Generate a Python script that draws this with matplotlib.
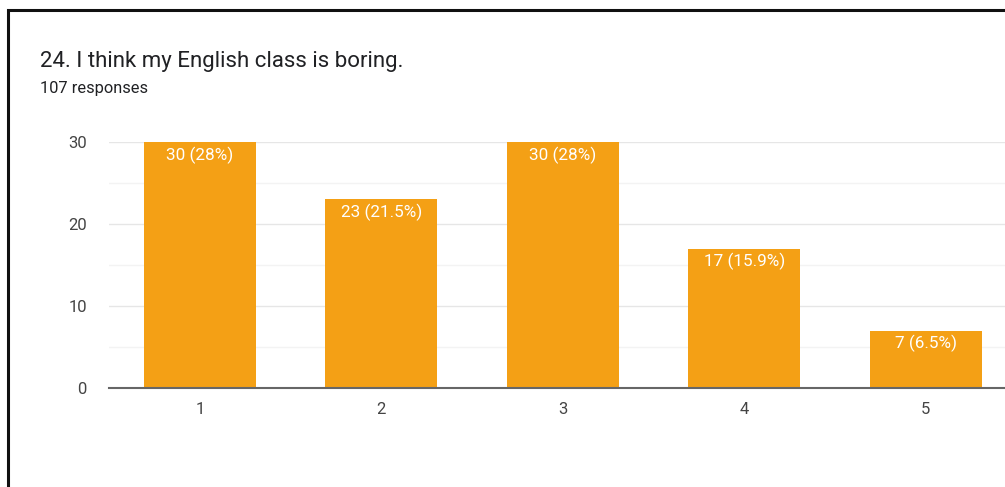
import matplotlib.pyplot as plt
from matplotlib.patches import Rectangle

categories = ["1", "2", "3", "4", "5"]
counts = [30, 23, 30, 17, 7]
labels = ["30 (28%)", "23 (21.5%)", "30 (28%)", "17 (15.9%)", "7 (6.5%)"]
yticks = [0, 10, 20, 30]
title = "24. I think my English class is boring."
subtitle = "107 responses"

plt.rcParams['font.family'] = ['Roboto', 'DejaVu Sans']

W, H = 1005, 487
fig = plt.figure(figsize=(W / 100, H / 100), dpi=100)
fig.patch.set_facecolor('white')

# card outline
fig.patches.append(Rectangle((8 / W, -0.1), 1.2, (H - 10) / H + 0.1,
                             transform=fig.transFigure, fill=False,
                             edgecolor='#111111', linewidth=2.2))

fig.text(40 / W, 1 - 61 / H, title, fontsize=16, color='#202124', va='center')
fig.text(40 / W, 1 - 88 / H, subtitle, fontsize=11.8, color='#202124', va='center')

ax_left, ax_bottom, ax_top = 109, 388, 142
px_per_cat = 181.5
ax = fig.add_axes([ax_left / W, 1 - ax_bottom / H,
                   5 * px_per_cat / W, (ax_bottom - ax_top) / H])

x = list(range(1, len(counts) + 1))
bars = ax.bar(x, counts, width=0.615, color='#F4A015', zorder=3)
for xi, c, lab in zip(x, counts, labels):
    ax.annotate(lab, (xi, c), xytext=(0, -9.5), textcoords='offset points',
                ha='center', va='center', color='white', fontsize=12.3, zorder=4)

ax.set_xlim(0.5, 5.5)
ax.set_ylim(0, 30)
ax.set_xticks(x)
ax.set_xticklabels(categories)
ax.set_yticks(yticks)
ax.set_yticks([5, 15, 25], minor=True)
ax.grid(axis='y', which='major', color='#e6e6e6', linewidth=1, zorder=0)
ax.grid(axis='y', which='minor', color='#f3f3f3', linewidth=1, zorder=0)
for s in ['top', 'right', 'left']:
    ax.spines[s].set_visible(False)
ax.spines['bottom'].set_color('#666666')
ax.spines['bottom'].set_linewidth(1.5)
ax.spines['bottom'].set_zorder(5)
ax.tick_params(axis='both', which='both', length=0, labelsize=12, colors='#444444')
ax.tick_params(axis='x', pad=10)
ax.tick_params(axis='y', pad=16)

fig.savefig('out.png', dpi=100)
